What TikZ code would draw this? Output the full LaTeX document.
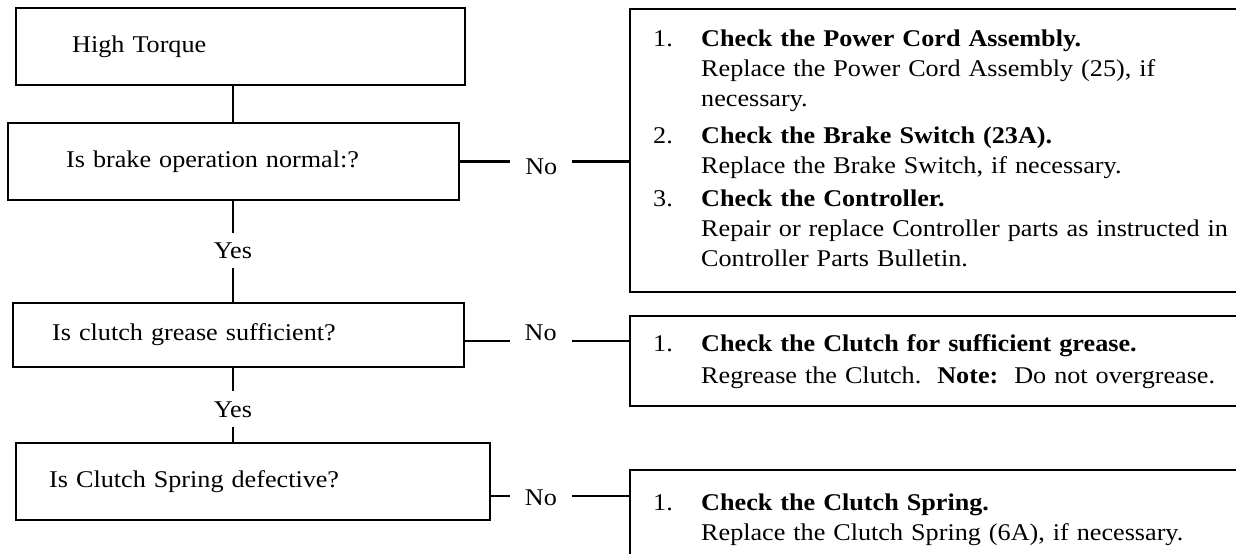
\documentclass[tikz,border=0pt]{standalone}
\usepackage{fontspec}
\setmainfont{Liberation Serif}[FakeStretch=1.09]
\usepackage{tikz}
\usetikzlibrary{positioning,calc}
\tikzset{
  qbox/.style={draw,line width=2.4bp,align=left,anchor=west,inner ysep=0pt,
    minimum height=77bp,font=\fontsize{24bp}{30bp}\selectfont},
  actbox/.style={draw,line width=2.4bp,align=left,anchor=north west,inner xsep=23bp,
    inner ysep=0pt,text width=585bp,minimum width=631bp,font=\fontsize{24bp}{30bp}\selectfont},
  link/.style={line width=2.4bp},
  lbl/.style={fill=white,inner xsep=15bp,inner ysep=10bp,font=\fontsize{24bp}{30bp}\selectfont},
}
\newcommand{\fixlist}[1]{\begin{tabular}{@{}p{48bp}@{}l@{}}#1\end{tabular}}

\begin{document}
\begin{tikzpicture}[x=1bp,y=-1bp]
  \useasboundingbox (0,0) rectangle (1236,554);
  \coordinate (spine) at (233,0);
  % questions
  \node[qbox,inner xsep=56bp,text width=337bp] (ht) at (15,46.5) {High Torque};
  \node[qbox,inner xsep=58bp,text width=335bp] (brake) at (7,161.5) {Is brake operation normal:?};
  \node[qbox,inner xsep=39bp,text width=373bp,minimum height=64bp] (grease) at (12,335) {Is clutch grease sufficient?};
  \node[qbox,inner xsep=33bp,text width=408bp] (spring) at (15,481.5) {Is Clutch Spring defective?};
  % actions
  \node[actbox,minimum height=283bp] (act1) at (629,8)
   {\fixlist{1. & \textbf{Check the Power Cord Assembly.}\\
     & Replace the Power Cord Assembly (25), if\\
     & necessary.\\[7bp]
    2. & \textbf{Check the Brake Switch (23A).}\\
     & Replace the Brake Switch, if necessary.\\[3bp]
    3. & \textbf{Check the Controller.}\\
     & Repair or replace Controller parts as instructed in\\
     & Controller Parts Bulletin.}};
  \node[actbox,minimum height=90bp] (act2) at (629,315)
   {\fixlist{1. & \textbf{Check the Clutch for sufficient grease.}\\[2bp]
     & Regrease the Clutch.\ \ \textbf{Note:}\ \ Do not overgrease.}};
  \node[actbox,minimum height=99bp] (act3) at (629,469)
   {\fixlist{1. & \textbf{Check the Clutch Spring.}\\
     & Replace the Clutch Spring (6A), if necessary.}};
  % yes path
  \draw[link] (ht.south -| spine) -- (brake.north -| spine);
  \draw[link] (brake.south -| spine) -- node[lbl,pos=0.49]{Yes} (grease.north -| spine);
  \draw[link] (grease.south -| spine) -- node[lbl,pos=0.56]{Yes} (spring.north -| spine);
  % no branches
  \draw[link] (brake.east) -- node[lbl,pos=0.48,yshift=-5bp]{No} (brake.east -| act1.west);
  \draw[link] ([yshift=-6bp]grease.east) -- node[lbl,pos=0.46,yshift=8bp]{No}
    ([yshift=-6bp]grease.east -| act2.west);
  \draw[link] ([yshift=-14.5bp]spring.east) -- node[lbl,pos=0.36,yshift=-2bp]{No}
    ([yshift=-14.5bp]spring.east -| act3.west);
\end{tikzpicture}
\end{document}
